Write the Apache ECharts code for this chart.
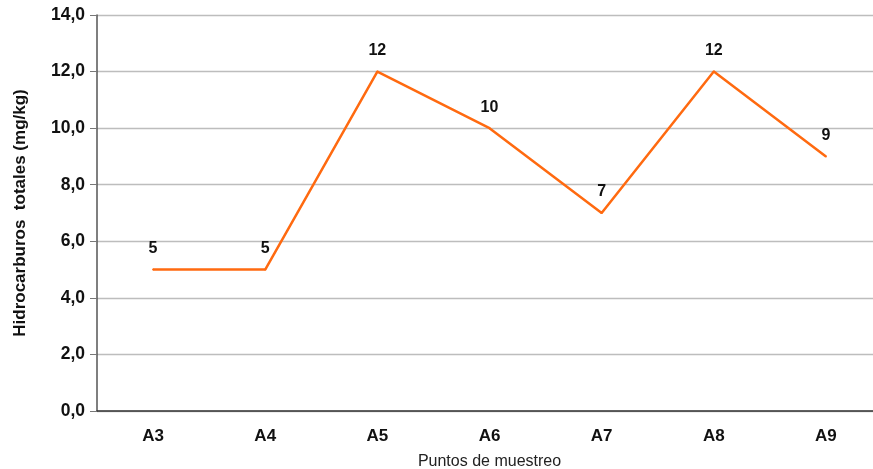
<!DOCTYPE html>
<html><head><meta charset="utf-8">
<script src="https://cdn.jsdelivr.net/npm/echarts@6/dist/echarts.min.js"></script>
<style>html,body{margin:0;padding:0;background:#fff}#c{width:873px;height:469px}</style>
</head><body><div id="c"></div>
<script>
const categories = ['A3','A4','A5','A6','A7','A8','A9'];
const values = [5, 5, 12, 10, 7, 12, 9];
const yTicks = [0, 2, 4, 6, 8, 10, 12, 14];
const chart = echarts.init(document.getElementById('c'));
chart.setOption({
  animation: false,
  grid: {left: 97, width: 785, top: 15, height: 396, outerBoundsMode: 'none', containLabel: false},
  xAxis: {
    type: 'category', data: categories, boundaryGap: true,
    name: 'Puntos de muestreo', nameLocation: 'middle', nameGap: 43,
    nameTextStyle: {fontFamily: 'Liberation Sans', fontSize: 16, color: '#222'},
    axisLine: {lineStyle: {color: '#333', width: 1.5}},
    axisTick: {show: false},
    axisLabel: {fontFamily: 'Liberation Sans', fontWeight: 'bold', fontSize: 17, color: '#111', margin: 17}
  },
  yAxis: {
    type: 'value', min: 0, max: 14, interval: 2,
    name: 'Hidrocarburos  totales (mg/kg)', nameLocation: 'middle', nameGap: 68,
    nameTextStyle: {fontFamily: 'Liberation Sans', fontWeight: 'bold', fontSize: 17, color: '#111'},
    axisLine: {show: true, lineStyle: {color: '#555', width: 1.5}},
    axisTick: {show: true, length: 7, lineStyle: {color: '#777'}},
    splitLine: {lineStyle: {color: '#bdbdbd', width: 1.3}},
    axisLabel: {fontFamily: 'Liberation Sans', fontWeight: 'bold', fontSize: 17.5, color: '#111', margin: 12,
      formatter: v => v.toFixed(1).replace('.', ',')}
  },
  series: [{
    type: 'line', data: values, symbol: 'circle', symbolSize: 2, showSymbol: true,
    itemStyle: {color: '#FF6A10'},
    lineStyle: {color: '#FF6A10', width: 2.5},
    label: {show: true, position: 'top', distance: 12, fontFamily: 'Liberation Sans', fontWeight: 'bold', fontSize: 16, color: '#111'}
  }]
});
</script></body></html>
